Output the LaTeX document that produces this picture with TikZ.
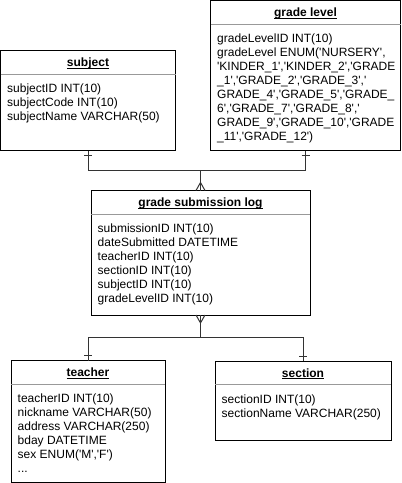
\documentclass[tikz,border=0pt]{standalone}
\usepackage{fontspec}
\setmainfont{Liberation Sans}[Ligatures=TeXOff]
\newcommand\ulx[1]{\setbox0\hbox{#1}\rlap{\rule[-2pt]{\wd0}{0.9pt}}\box0}
\begin{document}
\begin{tikzpicture}[x=1pt,y=-1pt,
  box/.style={draw=black,line width=1pt,anchor=north west,inner sep=0pt,outer sep=0pt},
  sepline/.style={draw=black!40,line width=1pt},
  ttl/.style={font=\fontsize{12}{14}\selectfont\bfseries,inner sep=0pt,anchor=base},
  body/.style={font=\fontsize{12}{14}\selectfont,align=left,anchor=north west,inner sep=0pt},
  conn/.style={draw=black!80,line width=1pt},
]
\useasboundingbox (0,0) rectangle (402,483);

% entity boxes
\node[box,minimum width=175pt,minimum height=100pt] (subject) at (0.5,50.5) {};
\node[box,minimum width=190pt,minimum height=150pt] (grade) at (210.5,0.5) {};
\node[box,minimum width=219pt,minimum height=124.5pt] (log) at (91,190.5) {};
\node[box,minimum width=154pt,minimum height=121.5pt] (teacher) at (11,360.5) {};
\node[box,minimum width=176pt,minimum height=79pt] (section) at (215,361) {};

% header separators
\foreach \n in {subject,grade,log,teacher,section}{
  \draw[sepline] ([yshift=-23.5pt]\n.north west) -- ([yshift=-23.5pt]\n.north east);
}

% titles
\node[ttl] (subjectT) at ([yshift=-16.1pt]subject.north) {\ulx{subject}};
\node[ttl] (gradeT) at ([yshift=-16.1pt]grade.north) {\ulx{grade level}};
\node[ttl] (logT) at ([yshift=-16.1pt]log.north) {\ulx{grade submission log}};
\node[ttl] (teacherT) at ([yshift=-16.1pt]teacher.north) {\ulx{teacher}};
\node[ttl] (sectionT) at ([yshift=-16.1pt]section.north) {\ulx{section}};

% bodies
\node[body] (subjectB) at ([xshift=6.5pt,yshift=-32pt]subject.north west)
  {\rule{0pt}{10pt}subjectID INT(10)\\subjectCode INT(10)\\subjectName VARCHAR(50)};
\node[body] (gradeB) at ([xshift=6.5pt,yshift=-32pt]grade.north west)
  {\rule{0pt}{10pt}gradeLevelID INT(10)\\
   gradeLevel ENUM('NURSERY',\\
   'KINDER\_1','KINDER\_2','GRADE\\
   \_1','GRADE\_2','GRADE\_3','\\
   GRADE\_4','GRADE\_5','GRADE\_\\
   6','GRADE\_7','GRADE\_8','\\
   GRADE\_9','GRADE\_10','GRADE\\
   \_11','GRADE\_12')};
\node[body] (logB) at ([xshift=6.5pt,yshift=-32pt]log.north west)
  {\rule{0pt}{10pt}submissionID INT(10)\\dateSubmitted DATETIME\\teacherID INT(10)\\sectionID INT(10)\\subjectID INT(10)\\gradeLevelID INT(10)};
\node[body] (teacherB) at ([xshift=6.5pt,yshift=-32pt]teacher.north west)
  {\rule{0pt}{10pt}teacherID INT(10)\\nickname VARCHAR(50)\\address VARCHAR(250)\\bday DATETIME\\sex ENUM('M','F')\\...};
\node[body] (sectionB) at ([xshift=6.5pt,yshift=-32pt]section.north west)
  {\rule{0pt}{10pt}sectionID INT(10)\\sectionName VARCHAR(250)};

% junctions
\coordinate (j1) at (200.5,170.5);
\coordinate (j2) at (200.5,337.5);

% connectors
\draw[conn] (subject.south) |- (j1);
\draw[conn] (grade.south) |- (j1);
\draw[conn] (j1) -- (log.north);
\draw[conn] (log.south) -- (j2);
\draw[conn] (teacher.north) |- (j2);
\draw[conn] (section.north) |- (j2);

% one-ticks
\draw[conn] ([xshift=-4pt,yshift=-4.5pt]subject.south) -- ([xshift=4pt,yshift=-4.5pt]subject.south);
\draw[conn] ([xshift=-4pt,yshift=-4.5pt]grade.south) -- ([xshift=4pt,yshift=-4.5pt]grade.south);
\draw[conn] ([xshift=-4pt,yshift=5pt]teacher.north) -- ([xshift=4pt,yshift=5pt]teacher.north);
\draw[conn] ([xshift=-4pt,yshift=5pt]section.north) -- ([xshift=4pt,yshift=5pt]section.north);

% crow's feet
\draw[conn] ([xshift=-4.5pt]log.north) -- ([yshift=8pt]log.north) -- ([xshift=4.5pt]log.north);
\draw[conn] ([xshift=-4.5pt]log.south) -- ([yshift=-8pt]log.south) -- ([xshift=4.5pt]log.south);
\end{tikzpicture}
\end{document}
